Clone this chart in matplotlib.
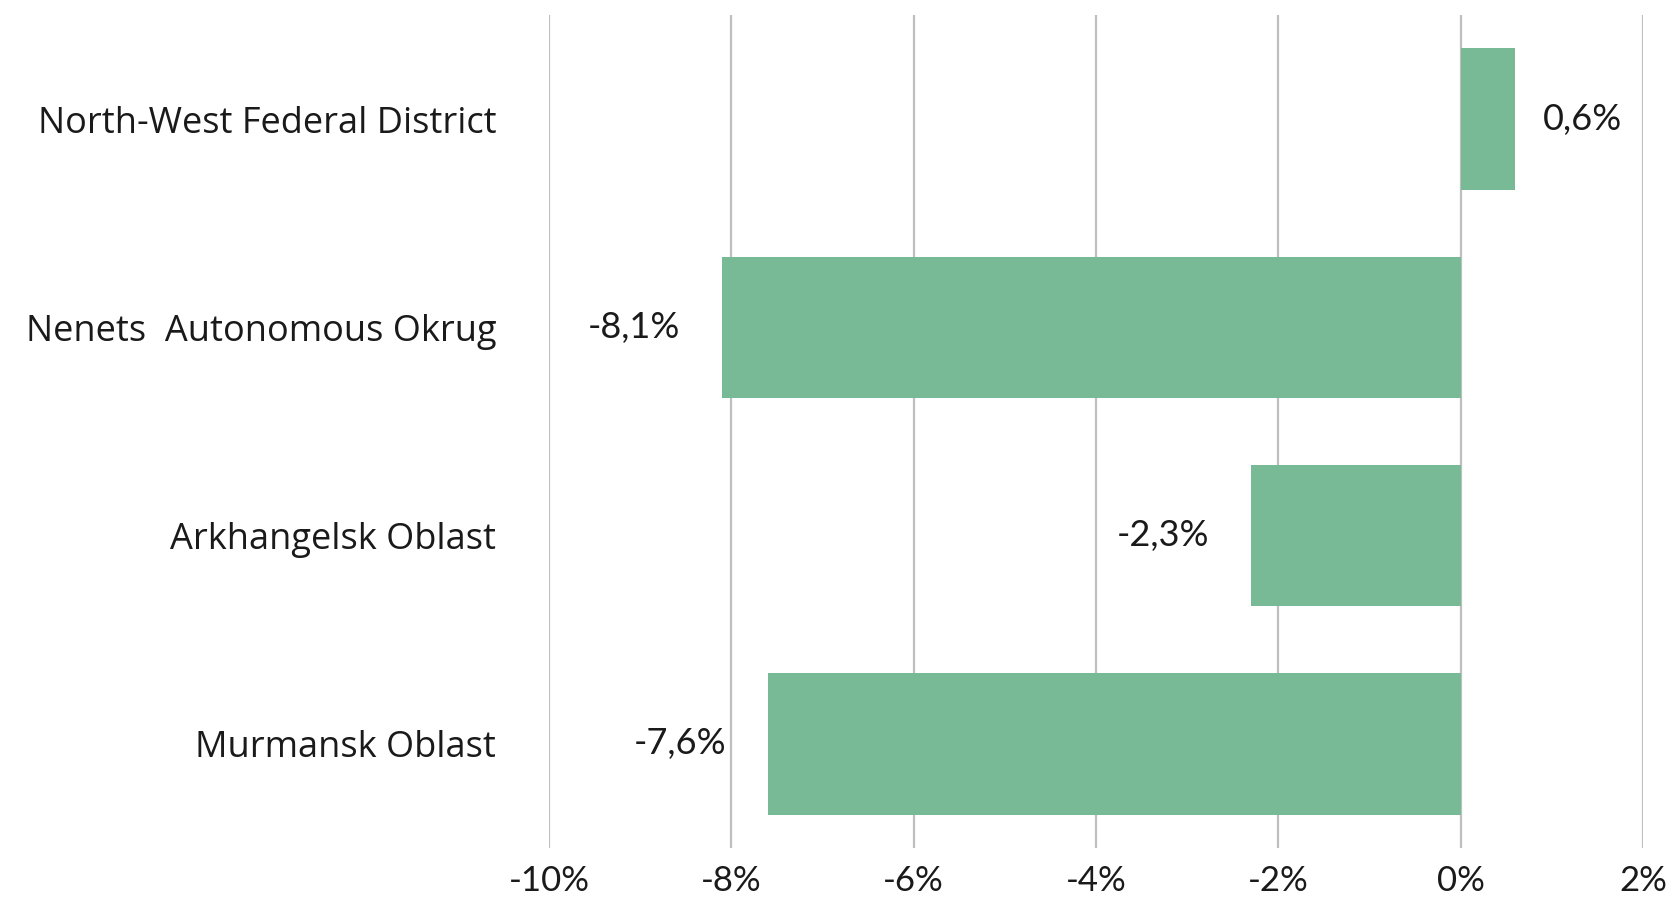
import matplotlib
matplotlib.use("Agg")
import matplotlib.pyplot as plt
from matplotlib.ticker import FuncFormatter

categories = ["North-West Federal District", "Nenets  Autonomous Okrug",
              "Arkhangelsk Oblast", "Murmansk Oblast"]
values = [0.6, -8.1, -2.3, -7.6]
value_labels = ["0,6%", "-8,1%", "-2,3%", "-7,6%"]
xticks = [-10, -8, -6, -4, -2, 0, 2]

plt.rcParams['font.family'] = ['Lato', 'DejaVu Sans']

fig = plt.figure(figsize=(16.72, 9.23), dpi=100)
ax = fig.add_axes([549/1672, 1-848/923, (1643-549)/1672, (848-15)/923])

y = list(range(len(categories)))
ax.barh(y, values, height=0.68, color='#79BA96', zorder=3)
ax.set_ylim(3.5, -0.5)
ax.set_xlim(-10, 2)
ax.set_xticks(xticks)
ax.xaxis.set_major_formatter(FuncFormatter(lambda v, p: f"{int(round(v))}%"))
ax.set_yticks(y)
ax.set_yticklabels(categories, family=['Open Sans', 'DejaVu Sans'], fontsize=26)
ax.tick_params(axis='both', length=0, labelsize=25, colors='#1a1a1a')
ax.tick_params(axis='y', labelsize=26, pad=38)
ax.tick_params(axis='x', pad=12)
ax.grid(axis='x', color='#BFBFBF', linewidth=1.6, zorder=0)
for s in ax.spines.values():
    s.set_visible(False)

for yi, v, lab in zip(y, values, value_labels):
    if v >= 0:
        ax.annotate(lab, (v, yi), xytext=(20, 0), textcoords='offset points',
                    ha='left', va='center', fontsize=26, color='#1a1a1a')
    else:
        ax.annotate(lab, (v, yi), xytext=(-30, 0), textcoords='offset points',
                    ha='right', va='center', fontsize=26, color='#1a1a1a')

fig.savefig("out.png", dpi=100)
